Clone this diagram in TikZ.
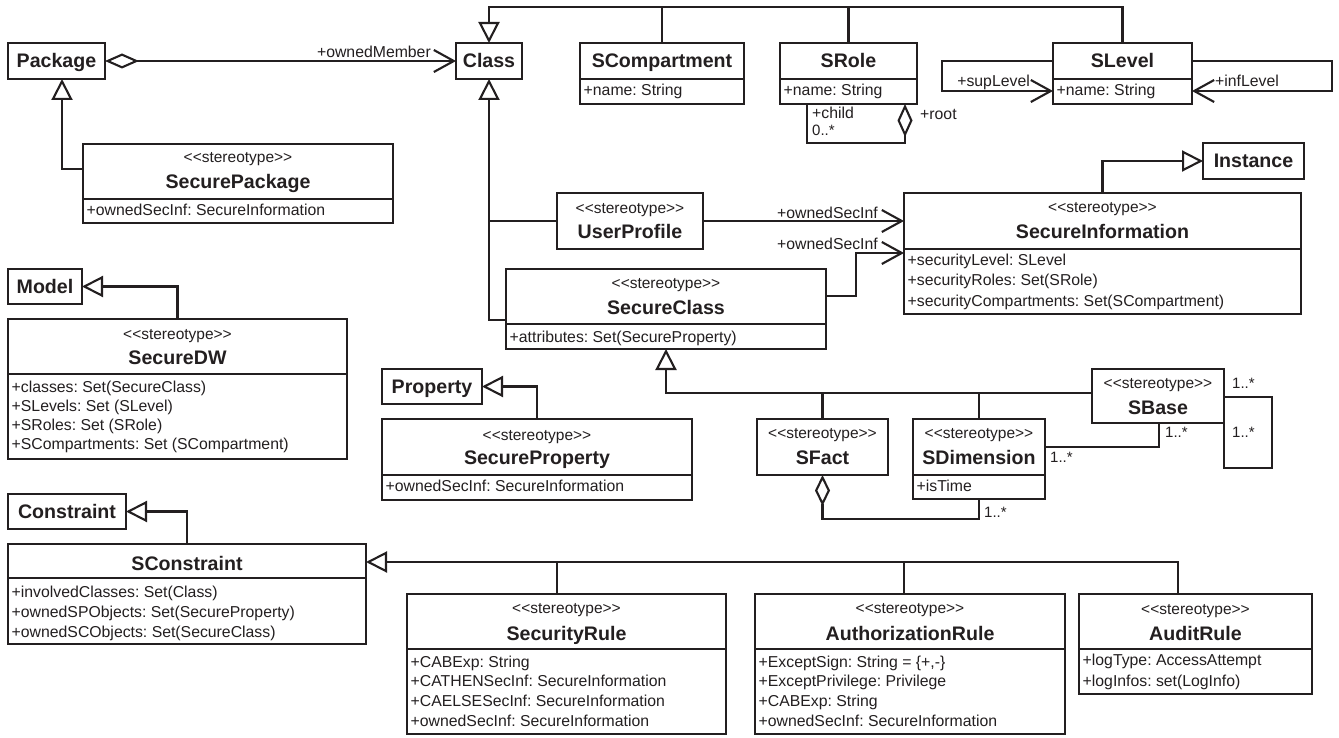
\documentclass[tikz,border=0pt]{standalone}
\usepackage{fontspec}
\setmainfont{Liberation Sans}
\usetikzlibrary{arrows.meta}
\definecolor{ink}{HTML}{231F20}
\frenchspacing

% a class box from its top-left to its bottom-right corner
\newcommand{\umlbox}[5]{\node[classbox, minimum width={(#4)-(#2)}, minimum height={(#5)-(#3)}] (#1) at (#2,#3) {};}
% compartment separator inside a class box
\newcommand{\sepline}[2]{\draw[ln] (#1.west |- 0,#2) -- (#1.east |- 0,#2);}
\newcommand{\stereo}{<\kern0pt<stereotype>\kern0pt>}

\begin{document}
\begin{tikzpicture}[x=1pt, y=-1pt,
  ln/.style={draw=ink, line width=2.1pt},
  classbox/.style={ln, rectangle, inner sep=0pt, outer sep=0pt, anchor=north west, fill=white},
  titletext/.style={font=\fontsize{19.6}{22}\selectfont\bfseries, text=ink, inner sep=0pt, anchor=base},
  stereotext/.style={font=\fontsize{15.5}{18}\selectfont, text=ink, inner sep=0pt, anchor=base},
  attrtext/.style={font=\fontsize{15.8}{18}\selectfont, text=ink, inner sep=0pt, anchor=base west},
  roletext/.style={font=\fontsize{15.8}{18}\selectfont, text=ink, inner sep=0pt},
  multtext/.style={font=\fontsize{15}{17}\selectfont, text=ink, inner sep=0pt, anchor=base west},
  gen/.style={ln, -{Triangle[open, length=21pt, width=21pt, fill=white]}},
  nav/.style={ln, -{Straight Barb[length=20pt, width=22pt]}},
  aggnav/.style={ln, {Diamond[open, length=34pt, width=15pt, fill=white]}-{Straight Barb[length=20pt, width=22pt]}},
]
\useasboundingbox (0,0) rectangle (1339,738);
\fill[white] (0,0) rectangle (1339,738);

% ---------- class boxes ----------
\umlbox{pkg}{8}{43}{105}{79}
\umlbox{cls}{456}{43}{522}{79}
\umlbox{scp}{580}{43}{744}{104}
\umlbox{srl}{780}{43}{917}{104}
\umlbox{slv}{1053}{43}{1192}{104}
\umlbox{spk}{83}{144}{393}{223}
\umlbox{ins}{1203}{143}{1304}{179}
\umlbox{upf}{557}{193}{703}{249}
\umlbox{sin}{904}{193}{1301}{314}
\umlbox{scl}{506}{269}{826}{349}
\umlbox{mdl}{8}{269}{82}{304}
\umlbox{sdw}{8}{319}{347}{459}
\umlbox{prp}{382}{369}{482}{404}
\umlbox{spr}{382}{419}{692}{500}
\umlbox{sft}{757}{419}{888}{475}
\umlbox{sdm}{913}{419}{1045}{499}
\umlbox{sbs}{1092}{369}{1224}{423}
\umlbox{cst}{8}{494}{126}{529}
\umlbox{sct}{8}{544}{366}{644}
\umlbox{sru}{407}{594}{726}{734}
\umlbox{aru}{755}{594}{1065}{734}
\umlbox{adr}{1079}{594}{1312}{694}

\sepline{scp}{79} \sepline{srl}{79} \sepline{slv}{79}
\sepline{spk}{199} \sepline{sin}{249} \sepline{scl}{324}
\sepline{sdw}{374} \sepline{spr}{475} \sepline{sdm}{475}
\sepline{sct}{578} \sepline{sru}{649} \sepline{aru}{649} \sepline{adr}{649}

% ---------- names ----------
\node[titletext] (pkg-t) at (pkg.center |- 0,68) {Package};
\node[titletext] (cls-t) at (cls.center |- 0,68) {Class};
\node[titletext] (scp-t) at (scp.center |- 0,68) {SCompartment};
\node[titletext] (srl-t) at (srl.center |- 0,68) {SRole};
\node[titletext] (slv-t) at (slv.center |- 0,68) {SLevel};
\node[stereotext] (spk-s) at (spk.center |- 0,163) {\stereo};
\node[titletext] (spk-t) at (spk.center |- 0,189) {SecurePackage};
\node[titletext] (ins-t) at (ins.center |- 0,168) {Instance};
\node[stereotext] (upf-s) at (upf.center |- 0,214) {\stereo};
\node[titletext] (upf-t) at (upf.center |- 0,239) {UserProfile};
\node[stereotext] (sin-s) at (sin.center |- 0,213) {\stereo};
\node[titletext] (sin-t) at (sin.center |- 0,239) {SecureInformation};
\node[stereotext] (scl-s) at (scl.center |- 0,288) {\stereo};
\node[titletext] (scl-t) at (scl.center |- 0,314) {SecureClass};
\node[titletext] (mdl-t) at (mdl.center |- 0,293.5) {Model};
\node[stereotext] (sdw-s) at (sdw.center |- 0,339) {\stereo};
\node[titletext] (sdw-t) at (sdw.center |- 0,364) {SecureDW};
\node[titletext] (prp-t) at (prp.center |- 0,393.5) {Property};
\node[stereotext] (spr-s) at (spr.center |- 0,440) {\stereo};
\node[titletext] (spr-t) at (spr.center |- 0,464) {SecureProperty};
\node[stereotext] (sft-s) at (sft.center |- 0,438) {\stereo};
\node[titletext] (sft-t) at (sft.center |- 0,464) {SFact};
\node[stereotext] (sdm-s) at (sdm.center |- 0,438) {\stereo};
\node[titletext] (sdm-t) at (sdm.center |- 0,464) {SDimension};
\node[stereotext] (sbs-s) at (sbs.center |- 0,388) {\stereo};
\node[titletext] (sbs-t) at (sbs.center |- 0,414) {SBase};
\node[titletext] (cst-t) at (cst.center |- 0,518.5) {Constraint};
\node[titletext] (sct-t) at (sct.center |- 0,570) {SConstraint};
\node[stereotext] (sru-s) at (sru.center |- 0,613) {\stereo};
\node[titletext] (sru-t) at (sru.center |- 0,640) {SecurityRule};
\node[stereotext] (aru-s) at (aru.center |- 0,613) {\stereo};
\node[titletext] (aru-t) at (aru.center |- 0,640) {AuthorizationRule};
\node[stereotext] (adr-s) at (adr.center |- 0,614) {\stereo};
\node[titletext] (adr-t) at (adr.center |- 0,640) {AuditRule};

% ---------- attributes ----------
\node[attrtext] (scp-a1) at (583.5,95.7) {+name: String};
\node[attrtext] (srl-a1) at (783.5,95.7) {+name: String};
\node[attrtext] (slv-a1) at (1056.5,95.7) {+name: String};
\node[attrtext] (spk-a1) at (86.5,215.7) {+ownedSecInf: SecureInformation};
\node[attrtext] (sin-a1) at (907.5,265.7) {+securityLevel: SLevel};
\node[attrtext] (sin-a2) at (907.5,285.9) {+securityRoles: Set(SRole)};
\node[attrtext] (sin-a3) at (907.5,306.4) {+securityCompartments: Set(SCompartment)};
\node[attrtext] (scl-a1) at (509.5,342.7) {+attributes: Set(SecureProperty)};
\node[attrtext] (sdw-a1) at (11.5,392.4) {+classes: Set(SecureClass)};
\node[attrtext] (sdw-a2) at (11.5,411.7) {+SLevels: Set (SLevel)};
\node[attrtext] (sdw-a3) at (11.5,430.7) {+SRoles: Set (SRole)};
\node[attrtext] (sdw-a4) at (11.5,449.7) {+SCompartments: Set (SCompartment)};
\node[attrtext] (spr-a1) at (385.5,491.7) {+ownedSecInf: SecureInformation};
\node[attrtext] (sdm-a1) at (916.5,491.7) {+isTime};
\node[attrtext] (sct-a1) at (11.5,597.7) {+involvedClasses: Set(Class)};
\node[attrtext] (sct-a2) at (11.5,617.7) {+ownedSPObjects: Set(SecureProperty)};
\node[attrtext] (sct-a3) at (11.5,637.7) {+ownedSCObjects: Set(SecureClass)};
\node[attrtext] (sru-a1) at (410.5,667.7) {+CABExp: String};
\node[attrtext] (sru-a2) at (410.5,686.9) {+CATHENSecInf: SecureInformation};
\node[attrtext] (sru-a3) at (410.5,706.7) {+CAELSESecInf: SecureInformation};
\node[attrtext] (sru-a4) at (410.5,726.4) {+ownedSecInf: SecureInformation};
\node[attrtext] (aru-a1) at (758.5,667.7) {+ExceptSign: String = \{+,-\}};
\node[attrtext] (aru-a2) at (758.5,686.9) {+ExceptPrivilege: Privilege};
\node[attrtext] (aru-a3) at (758.5,706.7) {+CABExp: String};
\node[attrtext] (aru-a4) at (758.5,726.4) {+ownedSecInf: SecureInformation};
\node[attrtext] (adr-a1) at (1082.5,665.7) {+logType: AccessAttempt};
\node[attrtext] (adr-a2) at (1082.5,686.7) {+logInfos: set(LogInfo)};

% ---------- connectors ----------
% Package owns classes
\draw[aggnav] (pkg.east) -- (cls.west);
\node[roletext, anchor=base east] (om) at (431,57.7) {+ownedMember};

% SCompartment, SRole and SLevel specialize Class
\draw[gen] (slv.north) |- (cls.north |- 0,7) -- (cls.north);
\draw[ln] (scp.north) -- (scp.north |- 0,7);
\draw[ln] (srl.north) -- (srl.north |- 0,7);

% SRole hierarchy
\draw[ln, {Diamond[open, length=33pt, width=15pt, fill=white]}-] (srl.south -| 905,0) -- (905,143) -| (srl.south -| 807,0);
\node[roletext, anchor=base west] (child) at (812,118.7) {+child};
\node[multtext] (child-m) at (812,135.5) {0..*};
\node[roletext, anchor=base west] (root) at (920,119.7) {+root};

% SLevel order
\draw[nav] (slv.west |- 0,61) -| (942,91) -- (slv.west |- 0,91);
\draw[nav] (slv.east |- 0,61) -| (1332,91) -- (slv.east |- 0,91);
\node[roletext, anchor=base east] (sup) at (1030,86.7) {+supLevel};
\node[roletext, anchor=base west] (inf) at (1215,86.7) {+infLevel};

% SecurePackage specializes Package
\draw[gen] (spk.west |- 0,169) -| (pkg.south -| 62,0);

% UserProfile and SecureClass specialize Class
\draw[gen] (scl.west |- 0,320) -| (cls.south);
\draw[ln] (upf.west) -- (upf.west -| cls.south);

% security information owned by profiles and classes
\draw[nav] (upf.east) -- (upf.east -| sin.west);
\node[roletext, anchor=base east] (os1) at (878,218.7) {+ownedSecInf};
\draw[nav] (scl.east |- 0,296) -| (856,253) -- (sin.west |- 0,253);
\node[roletext, anchor=base east] (os2) at (878,249.7) {+ownedSecInf};

% SecureInformation specializes Instance
\draw[gen] (sin.north) |- (ins.west);

% Model, Property and Constraint extensions
\draw[gen] (sdw.north) |- (mdl.east);
\draw[gen] (spr.north) |- (prp.east);
\draw[gen] (sct.north) |- (cst.east);

% SFact, SDimension and SBase specialize SecureClass
\draw[gen] (sbs.west |- 0,393) -| (scl.south);
\draw[ln] (sft.north) -- (sft.north |- 0,393);
\draw[ln] (sdm.north) -- (sdm.north |- 0,393);

% SBase self association
\draw[ln] (sbs.east |- 0,397) -| (1272,468) -| (sbs.south east);
\node[multtext] (sb-m1) at (1232,388) {1..*};
\node[multtext] (sb-m2) at (1232,437) {1..*};

% SDimension -- SBase
\draw[ln] (sdm.east |- 0,447) -| (sbs.south -| 1159,0);
\node[multtext] (sd-m1) at (1165,437) {1..*};
\node[multtext] (sd-m2) at (1050,462) {1..*};

% SFact aggregates SDimension
\draw[ln, {Diamond[open, length=31pt, width=15pt, fill=white]}-] (sft.south) |- (sdm.south |- 0,519) -- (sdm.south);
\node[multtext] (fd-m) at (984,517) {1..*};

% rules specialize SConstraint
\draw[gen] (adr.north -| 1178,0) |- (sct.east |- 0,562);
\draw[ln] (sru.north -| 557,0) -- (557,562);
\draw[ln] (aru.north -| 904,0) -- (904,562);
\end{tikzpicture}
\end{document}
